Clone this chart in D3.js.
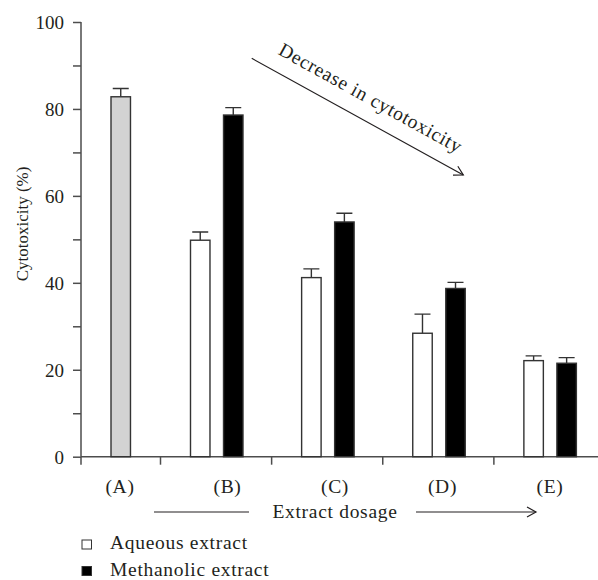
<html>
<style>
  body { margin: 0; background: #fff; }
  svg { display: block; }
  text { font-family: "Liberation Serif", "Times New Roman", serif; fill: #231f20; }
  .axis path, .axis line { stroke: #4d4d4d; stroke-width: 1.5px; }
  .axis text { font-size: 19px; font-family: "Liberation Serif", serif; fill: #231f20; }
  .bar { stroke: #333; stroke-width: 1.4px; }
  .err { stroke: #333; stroke-width: 1.4px; fill: none; }
  .lbl { font-size: 19.5px; letter-spacing: 0.7px; }
</style>
<script src="https://d3js.org/d3.v7.min.js"></script>
<body>
<div id="chart"></div>
<script>

// values (cytotoxicity, %)
const groups = ["(A)", "(B)", "(C)", "(D)", "(E)"];
const control = 82.8, controlErr = 1.9;          // group (A)
const aqueous = [49.8, 41.2, 28.4, 22.1];         // groups (B)..(E)
const aqueousErr = [1.9, 2.0, 4.4, 1.1];
const methanolic = [78.6, 54.0, 38.7, 21.5];
const methanolicErr = [1.7, 2.0, 1.4, 1.3];
const yTicks = d3.range(0, 101, 10);
const yLabels = [0, 20, 40, 60, 80, 100];
const legendItems = ["Aqueous extract", "Methanolic extract"];

const W = 598, H = 580;
const x0 = 81, y0 = 456.7;

const svg = d3.select("#chart").append("svg").attr("width", W).attr("height", H);

const y = d3.scaleLinear().domain([0, 100]).range([y0, 22]);

// bands for the treated groups, (A) sits in the short first segment
const xBand = d3.scaleBand().domain(groups.slice(1)).range([160.5, 605]);
const inner = d3.scaleBand().domain(["aq", "me"]).range([30, 82.5]).paddingInner(0.41);
const xLabel = d3.scalePoint().domain(groups).range([120, 550]);

// y axis
const yAxis = svg.append("g").attr("class", "axis").attr("transform", `translate(${x0},0)`)
  .call(d3.axisLeft(y).tickValues(yTicks).tickSize(8).tickPadding(9)
    .tickFormat(d => yLabels.includes(d) ? d : ""));
yAxis.select(".domain").attr("d", `M0,${y0}V${y(100)}`);
yAxis.selectAll("text").attr("dy", "0.34em");

// x axis
const xg = svg.append("g").attr("class", "axis");
xg.append("line").attr("x1", x0).attr("x2", W).attr("y1", y0).attr("y2", y0);
xg.selectAll(".xt").data([x0].concat(groups.slice(1).map(g => xBand(g))))
  .join("line").attr("class", "xt")
  .attr("x1", d => d).attr("x2", d => d).attr("y1", y0).attr("y2", y0 + 8);

svg.selectAll(".glbl").data(groups).join("text").attr("class", "lbl glbl")
  .attr("x", d => xLabel(d)).attr("y", 493).attr("text-anchor", "middle").text(d => d);

// bars
const bars = [{ x: x0 + inner("aq"), v: control, e: controlErr, fill: "#d3d3d3" }];
groups.slice(1).forEach((g, i) => {
  bars.push({ x: xBand(g) + inner("aq"), v: aqueous[i], e: aqueousErr[i], fill: "#fff" });
  bars.push({ x: xBand(g) + inner("me"), v: methanolic[i], e: methanolicErr[i], fill: "#000" });
});
const bw = inner.bandwidth();

svg.selectAll(".err").data(bars).join("path").attr("class", "err")
  .attr("d", d => `M${d.x + bw / 2},${y(d.v)}V${y(d.v + d.e)}M${d.x + bw / 2 - 8},${y(d.v + d.e)}H${d.x + bw / 2 + 8}`);

svg.selectAll(".bar").data(bars).join("rect").attr("class", "bar")
  .attr("x", d => d.x).attr("width", bw)
  .attr("y", d => y(d.v)).attr("height", d => y0 - y(d.v))
  .attr("fill", d => d.fill);

// y title
svg.append("text").attr("transform", "translate(28,224) rotate(-90)")
  .attr("text-anchor", "middle").style("font-size", "17px").text("Cytotoxicity (%)");

// arrow marker
svg.append("defs").append("marker").attr("id", "arr")
  .attr("viewBox", "-10 -6 12 12").attr("refX", 0).attr("refY", 0)
  .attr("markerWidth", 12).attr("markerHeight", 12).attr("markerUnits", "userSpaceOnUse")
  .attr("orient", "auto")
  .append("path").attr("d", "M-9,-5L0,0L-9,5").attr("fill", "none").attr("stroke", "#231f20").attr("stroke-width", 1.2);

// x title with arrows
svg.append("line").attr("x1", 154).attr("x2", 249).attr("y1", 512).attr("y2", 512)
  .attr("stroke", "#231f20").attr("stroke-width", 1.2);
svg.append("line").attr("x1", 416).attr("x2", 536).attr("y1", 512).attr("y2", 512)
  .attr("stroke", "#231f20").attr("stroke-width", 1.2).attr("marker-end", "url(#arr)");
svg.append("text").attr("class", "lbl").attr("x", 335).attr("y", 518)
  .attr("text-anchor", "middle").text("Extract dosage");

// diagonal annotation
const a1 = [251.7, 58.3], a2 = [463.3, 175];
const ang = Math.atan2(a2[1] - a1[1], a2[0] - a1[0]) * 180 / Math.PI;
svg.append("line").attr("x1", a1[0]).attr("y1", a1[1]).attr("x2", a2[0]).attr("y2", a2[1])
  .attr("stroke", "#231f20").attr("stroke-width", 1.2).attr("marker-end", "url(#arr)");
svg.append("text").attr("class", "lbl")
  .attr("transform", `translate(${(a1[0] + a2[0]) / 2 + 10},${(a1[1] + a2[1]) / 2 - 13}) rotate(${ang})`)
  .attr("text-anchor", "middle").text("Decrease in cytotoxicity");

// legend
const lg = svg.selectAll(".leg").data(legendItems).join("g").attr("class", "leg")
  .attr("transform", (d, i) => `translate(82,${540 + i * 26.5})`);
lg.append("rect").attr("width", 9.5).attr("height", 9)
  .attr("fill", (d, i) => i ? "#000" : "#fff").attr("stroke", "#333").attr("stroke-width", 1);
lg.append("text").attr("class", "lbl").attr("x", 28).attr("y", 9).text(d => d);

</script>
</body>
</html>
